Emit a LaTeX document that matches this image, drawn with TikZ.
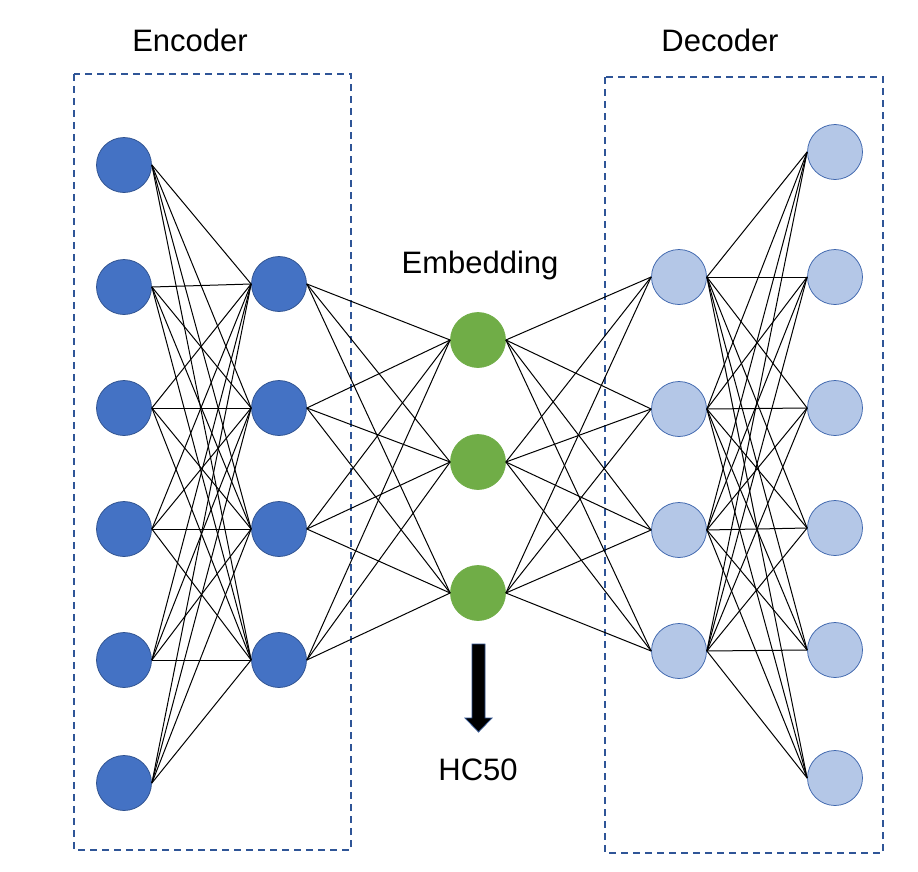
\documentclass[tikz,border=0pt]{standalone}
\usepackage{fontspec}
\setmainfont{Liberation Sans}
\usepackage{xcolor}
\usepackage{tikz}

\definecolor{encfill}{HTML}{4472C4}
\definecolor{encline}{HTML}{2F528F}
\definecolor{decfill}{HTML}{B4C7E7}
\definecolor{decline}{HTML}{3E66AD}
\definecolor{embfill}{HTML}{70AD47}
\definecolor{boxline}{HTML}{2F5597}

\tikzset{
  neuron/.style={circle, minimum size=55bp, inner sep=0pt, line width=0.75bp},
  encnode/.style={neuron, fill=encfill, draw=encline},
  decnode/.style={neuron, fill=decfill, draw=decline},
  embnode/.style={neuron, fill=embfill, draw=embfill},
  edge/.style={black, line width=1bp},
  groupbox/.style={draw=boxline, line width=1.2bp, dash pattern=on 7bp off 5bp},
  label/.style={anchor=base, inner sep=0pt, font=\fontsize{31bp}{37bp}\selectfont}
}

\begin{document}
\begin{tikzpicture}[x=1bp, y=-1bp]
\useasboundingbox (0,0) rectangle (918,872);

\draw[groupbox] (74,74) rectangle (351,850);
\draw[groupbox] (605,77) rectangle (883,853);

\node[label] (enclabel) at (190,51) {Encoder};
\node[label] (declabel) at (720,51) {Decoder};
\node[label] (emblabel) at (480,273) {Embedding};
\node[label] (hclabel) at (478,780) {HC50};

\node[encnode] (in1) at (124,165) {};
\node[encnode] (in2) at (124,287) {};
\node[encnode] (in3) at (124,408) {};
\node[encnode] (in4) at (124,529) {};
\node[encnode] (in5) at (124,660) {};
\node[encnode] (in6) at (124,783) {};

\node[encnode] (h1) at (279,284) {};
\node[encnode] (h2) at (279,408) {};
\node[encnode] (h3) at (279,529) {};
\node[encnode] (h4) at (279,660) {};

\node[embnode] (z1) at (478,340) {};
\node[embnode] (z2) at (478,462) {};
\node[embnode] (z3) at (478,593) {};

\node[decnode] (d1) at (679,277) {};
\node[decnode] (d2) at (679,409) {};
\node[decnode] (d3) at (679,530) {};
\node[decnode] (d4) at (679,651) {};

\node[decnode] (out1) at (835,152) {};
\node[decnode] (out2) at (835,277) {};
\node[decnode] (out3) at (835,408) {};
\node[decnode] (out4) at (835,528) {};
\node[decnode] (out5) at (835,650) {};
\node[decnode] (out6) at (835,778) {};

\draw[edge] (in1.east) -- (h1.west);
\draw[edge] (in1.east) -- (h2.west);
\draw[edge] (in1.east) -- (h3.west);
\draw[edge] (in1.east) -- (h4.west);
\draw[edge] (in2.east) -- (h1.west);
\draw[edge] (in2.east) -- (h2.west);
\draw[edge] (in2.east) -- (h3.west);
\draw[edge] (in2.east) -- (h4.west);
\draw[edge] (in3.east) -- (h1.west);
\draw[edge] (in3.east) -- (h2.west);
\draw[edge] (in3.east) -- (h3.west);
\draw[edge] (in3.east) -- (h4.west);
\draw[edge] (in4.east) -- (h1.west);
\draw[edge] (in4.east) -- (h2.west);
\draw[edge] (in4.east) -- (h3.west);
\draw[edge] (in4.east) -- (h4.west);
\draw[edge] (in5.east) -- (h1.west);
\draw[edge] (in5.east) -- (h2.west);
\draw[edge] (in5.east) -- (h3.west);
\draw[edge] (in5.east) -- (h4.west);
\draw[edge] (in6.east) -- (h1.west);
\draw[edge] (in6.east) -- (h2.west);
\draw[edge] (in6.east) -- (h3.west);
\draw[edge] (in6.east) -- (h4.west);

\draw[edge] (h1.east) -- (z1.west);
\draw[edge] (h1.east) -- (z2.west);
\draw[edge] (h1.east) -- (z3.west);
\draw[edge] (h2.east) -- (z1.west);
\draw[edge] (h2.east) -- (z2.west);
\draw[edge] (h2.east) -- (z3.west);
\draw[edge] (h3.east) -- (z1.west);
\draw[edge] (h3.east) -- (z2.west);
\draw[edge] (h3.east) -- (z3.west);
\draw[edge] (h4.east) -- (z1.west);
\draw[edge] (h4.east) -- (z2.west);
\draw[edge] (h4.east) -- (z3.west);

\draw[edge] (z1.east) -- (d1.west);
\draw[edge] (z1.east) -- (d2.west);
\draw[edge] (z1.east) -- (d3.west);
\draw[edge] (z1.east) -- (d4.west);
\draw[edge] (z2.east) -- (d1.west);
\draw[edge] (z2.east) -- (d2.west);
\draw[edge] (z2.east) -- (d3.west);
\draw[edge] (z2.east) -- (d4.west);
\draw[edge] (z3.east) -- (d1.west);
\draw[edge] (z3.east) -- (d2.west);
\draw[edge] (z3.east) -- (d3.west);
\draw[edge] (z3.east) -- (d4.west);

\draw[edge] (d1.east) -- (out1.west);
\draw[edge] (d1.east) -- (out2.west);
\draw[edge] (d1.east) -- (out3.west);
\draw[edge] (d1.east) -- (out4.west);
\draw[edge] (d1.east) -- (out5.west);
\draw[edge] (d1.east) -- (out6.west);
\draw[edge] (d2.east) -- (out1.west);
\draw[edge] (d2.east) -- (out2.west);
\draw[edge] (d2.east) -- (out3.west);
\draw[edge] (d2.east) -- (out4.west);
\draw[edge] (d2.east) -- (out5.west);
\draw[edge] (d2.east) -- (out6.west);
\draw[edge] (d3.east) -- (out1.west);
\draw[edge] (d3.east) -- (out2.west);
\draw[edge] (d3.east) -- (out3.west);
\draw[edge] (d3.east) -- (out4.west);
\draw[edge] (d3.east) -- (out5.west);
\draw[edge] (d3.east) -- (out6.west);
\draw[edge] (d4.east) -- (out1.west);
\draw[edge] (d4.east) -- (out2.west);
\draw[edge] (d4.east) -- (out3.west);
\draw[edge] (d4.east) -- (out4.west);
\draw[edge] (d4.east) -- (out5.west);
\draw[edge] (d4.east) -- (out6.west);

\draw[fill=black, draw=encline, line width=0.75bp]
  (472,644) -- (485,644) -- (485,718) -- (492,718) -- (478.5,732)
  -- (465,718) -- (472,718) -- cycle;
\end{tikzpicture}
\end{document}
